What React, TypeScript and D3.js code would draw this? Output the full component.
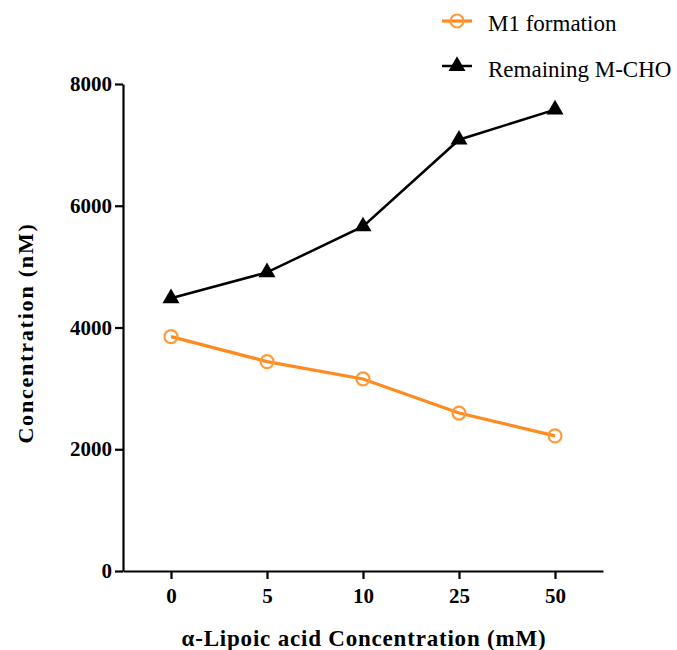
import { useEffect, useRef } from 'react';
import * as d3 from 'd3';

// alpha-lipoic acid concentrations (mM), shown as evenly spaced categories
const concentrations = ['0', '5', '10', '25', '50'];
const m1Formation = [3850, 3440, 3155, 2595, 2220];
const remainingMCHO = [4480, 4905, 5660, 7085, 7580];
const yTicks = [0, 2000, 4000, 6000, 8000];

const ORANGE = '#FF8A1F';
const FONT = '"Liberation Serif", "Times New Roman", serif';

const App = () => {
  const svgRef = useRef<SVGSVGElement>(null);

  useEffect(() => {
    const svg = d3.select(svgRef.current);
    svg.selectAll('*').remove();

    const x = d3.scalePoint().domain(concentrations).range([123, 603]).padding(0.5);
    const y = d3.scaleLinear().domain([0, 8000]).range([571, 84]);

    // axes
    const yAxis = svg
      .append('g')
      .attr('transform', 'translate(123,0)')
      .call(d3.axisLeft(y).tickValues(yTicks).tickSize(8).tickSizeOuter(0).tickPadding(3).tickFormat(d3.format('d')));
    const xAxis = svg
      .append('g')
      .attr('transform', 'translate(0,571)')
      .call(d3.axisBottom(x).tickSize(8).tickSizeOuter(0).tickPadding(9));

    [yAxis, xAxis].forEach((g) => {
      g.select('.domain').attr('stroke', '#000').attr('stroke-width', 2.2);
      g.selectAll('.tick line').attr('stroke', '#000').attr('stroke-width', 2.2);
      g.selectAll('.tick text')
        .attr('fill', '#000')
        .attr('font-family', FONT)
        .attr('font-weight', 'bold')
        .attr('font-size', 21);
    });

    // axis titles
    svg
      .append('text')
      .attr('x', 364)
      .attr('y', 646)
      .attr('text-anchor', 'middle')
      .attr('font-family', FONT)
      .attr('font-weight', 'bold')
      .attr('font-size', 23)
      .attr('letter-spacing', 0.8)
      .text('α-Lipoic acid Concentration (mM)');

    svg
      .append('text')
      .attr('transform', 'translate(33,333) rotate(-90)')
      .attr('text-anchor', 'middle')
      .attr('font-family', FONT)
      .attr('font-weight', 'bold')
      .attr('font-size', 22)
      .attr('letter-spacing', 1.8)
      .text('Concentration (nM)');

    const line = d3
      .line<number>()
      .x((_, i) => x(concentrations[i]) as number)
      .y((d) => y(d));

    const triangle = d3.symbol().type(d3.symbolTriangle).size(125);

    // Remaining M-CHO
    svg
      .append('path')
      .datum(remainingMCHO)
      .attr('fill', 'none')
      .attr('stroke', '#000')
      .attr('stroke-width', 2.5)
      .attr('d', line);
    svg
      .append('g')
      .selectAll('path')
      .data(remainingMCHO)
      .join('path')
      .attr('transform', (d, i) => `translate(${x(concentrations[i])},${y(d)})`)
      .attr('d', triangle)
      .attr('fill', '#000');

    // M1 formation
    svg
      .append('path')
      .datum(m1Formation)
      .attr('fill', 'none')
      .attr('stroke', ORANGE)
      .attr('stroke-width', 3.2)
      .attr('d', line);
    svg
      .append('g')
      .selectAll('circle')
      .data(m1Formation)
      .join('circle')
      .attr('cx', (_, i) => x(concentrations[i]) as number)
      .attr('cy', (d) => y(d))
      .attr('r', 6.5)
      .attr('fill', 'none')
      .attr('stroke', '#FF9A3A')
      .attr('stroke-width', 2.2);

    // legend
    const legend = svg.append('g');
    const rowOrange = legend.append('g').attr('transform', 'translate(0,21)');
    rowOrange.append('line').attr('x1', 442).attr('x2', 472).attr('stroke', ORANGE).attr('stroke-width', 3.2);
    rowOrange
      .append('circle')
      .attr('cx', 457)
      .attr('r', 6.5)
      .attr('fill', 'none')
      .attr('stroke', '#FF9A3A')
      .attr('stroke-width', 2.2);
    rowOrange
      .append('text')
      .attr('x', 488)
      .attr('y', 10)
      .attr('font-family', FONT)
      .attr('font-size', 23)
      .text('M1 formation');

    const rowBlack = legend.append('g').attr('transform', 'translate(0,66)');
    rowBlack.append('line').attr('x1', 442).attr('x2', 472).attr('stroke', '#000').attr('stroke-width', 2.5);
    rowBlack.append('path').attr('transform', 'translate(457,0)').attr('d', triangle).attr('fill', '#000');
    rowBlack
      .append('text')
      .attr('x', 488)
      .attr('y', 11)
      .attr('font-family', FONT)
      .attr('font-size', 23)
      .text('Remaining M-CHO');
  }, []);

  return (
    <div style={{ position: 'absolute', left: 0, top: 0 }}>
      <svg ref={svgRef} width={677} height={650} style={{ display: 'block', background: '#fff' }}></svg>
    </div>
  );
};

export default App;
